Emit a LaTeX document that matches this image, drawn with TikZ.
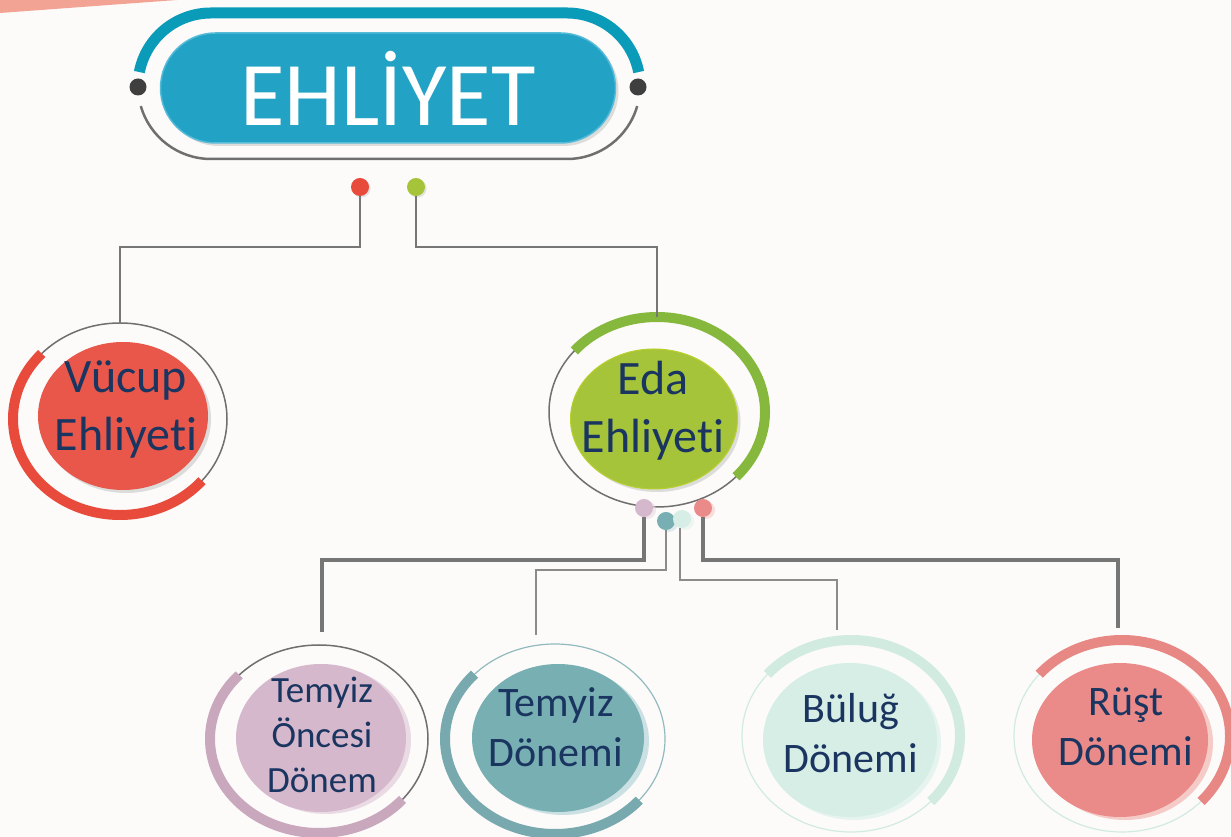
\documentclass[tikz,border=0pt]{standalone}
\usepackage{fontspec}
\setmainfont[Ligatures=NoCommon]{Carlito}
\usetikzlibrary{shapes.geometric}
\usetikzlibrary{shadows}

\definecolor{paper}{HTML}{FCFBF9}
\definecolor{stripe}{HTML}{F2A393}
\definecolor{titleteal}{HTML}{0A9BB9}
\definecolor{titlefill}{HTML}{22A2C4}
\definecolor{titleedge}{HTML}{55BBD8}
\definecolor{darkdot}{HTML}{3F3F3F}
\definecolor{linegray}{HTML}{767676}
\definecolor{ringgray}{HTML}{6F6F6F}
\definecolor{navy}{HTML}{1A3560}
\definecolor{vucfill}{HTML}{E8574A}
\definecolor{vucarc}{HTML}{E84A3C}
\definecolor{edafill}{HTML}{A6C43A}
\definecolor{edaarc}{HTML}{86B83E}
\definecolor{oncfill}{HTML}{D6B8CD}
\definecolor{oncarc}{HTML}{C9A8BE}
\definecolor{onchalo}{HTML}{E9DAE4}
\definecolor{tdonfill}{HTML}{78AFB3}
\definecolor{tdonarc}{HTML}{77A9AE}
\definecolor{tdonhalo}{HTML}{CBE0E2}
\definecolor{bulfill}{HTML}{D7EEE6}
\definecolor{bularc}{HTML}{D1EBE1}
\definecolor{bulhalo}{HTML}{E6F4EF}
\definecolor{rustfill}{HTML}{EA8A89}
\definecolor{rustarc}{HTML}{E88885}
\definecolor{rusthalo}{HTML}{F5CBC8}

\begin{document}
\begin{tikzpicture}[x=1pt, y=1pt,
  ring/.style={ellipse, inner sep=0, outer sep=0, line width=1.5pt},
  arcline/.style={line width=10pt},
  blob/.style={ellipse, inner sep=0, outer sep=0},
  caption/.style={text=navy, align=center, inner sep=0},
  bigtext/.style={caption, font=\fontsize{48}{58}\selectfont},
  midtext/.style={caption, font=\fontsize{42}{50}\selectfont},
  smalltext/.style={caption, font=\fontsize{37}{45}\selectfont},
  dotnode/.style={circle, inner sep=0, outer sep=0, minimum size=18pt},
  conn/.style={draw=linegray, line width=2.5pt},
  thinconn/.style={draw=linegray!85, line width=1.4pt},
  thickconn/.style={draw=linegray, line width=3.4pt}]
\useasboundingbox (0,0) rectangle (1231,837);
\fill[paper] (0,0) rectangle (1231,837);
\fill[stripe] (0,837) -- (0,824) -- (177,837) -- cycle;

% title
\draw[titleteal, line width=11pt] (211,751) ++(169:73pt) arc[start angle=169, end angle=90, radius=73pt] -- (567,824) arc[start angle=90, end angle=11, radius=73pt];
\draw[ringgray, line width=2.5pt] (211,751) ++(196:73pt) arc[start angle=196, end angle=270, radius=73pt] -- (567,678) arc[start angle=270, end angle=344, radius=73pt];
\node[dotnode, fill=darkdot, minimum size=17pt] (knobl) at (138,750) {};
\node[dotnode, fill=darkdot, minimum size=17pt] (knobr) at (638,750) {};
\node[rectangle, rounded corners=55pt, minimum width=455pt, minimum height=110pt, inner sep=0, fill=titlefill, draw=titleedge, line width=1.5pt, text=white,
  font=\fontsize{91}{94}\selectfont,
  drop shadow={shadow xshift=3pt, shadow yshift=-3pt, opacity=0.25}] (title) at (388,749) {EHLİYET};

\node[dotnode, fill=vucarc, drop shadow={shadow xshift=1.5pt, shadow yshift=-1.5pt, opacity=0.2}] (dotV) at (360,650) {};
\node[dotnode, fill=edafill, drop shadow={shadow xshift=1.5pt, shadow yshift=-1.5pt, opacity=0.2}] (dotE) at (416,650) {};

% Vucup
\node[ring, draw=ringgray, minimum width=214pt, minimum height=192pt] (vring) at (120,418) {};
\draw[arcline, vucarc] (vring.center) ++(137:107pt and 96pt) arc[start angle=137, end angle=320, x radius=107pt, y radius=96pt];
\node[blob, fill=vucfill, minimum width=170pt, minimum height=148pt, drop shadow={shadow xshift=3pt, shadow yshift=-3pt, opacity=0.25}] (vucup) at (123,421) {};
\node[bigtext] (vuctext) at (126,428) {Vücup\\Ehliyeti};

% Eda
\node[ring, draw=ringgray, minimum width=216pt, minimum height=190pt] (ering) at (657,425) {};
\draw[arcline, edaarc] (ering.center) ++(140:108pt and 95pt) arc[start angle=140, end angle=-43, x radius=108pt, y radius=95pt];
\node[blob, fill=edafill, draw=edafill!80!yellow, line width=1pt, minimum width=167pt, minimum height=140pt, drop shadow={shadow xshift=3pt, shadow yshift=-3pt, opacity=0.25}] (eda) at (654,418) {};
\node[bigtext] (edatext) at (653,426) {Eda\\Ehliyeti};

\node[dotnode, fill=oncfill, drop shadow={shadow xshift=3pt, shadow yshift=-2pt, fill=onchalo, opacity=0.6}] (dotA) at (644,329) {};
\node[dotnode, fill=tdonfill, drop shadow={shadow xshift=3pt, shadow yshift=-2pt, fill=tdonhalo, opacity=0.6}] (dotB) at (666,316) {};
\node[dotnode, fill=bulfill, drop shadow={shadow xshift=3pt, shadow yshift=-2pt, fill=bulhalo, opacity=0.6}] (dotC) at (682,318) {};
\node[dotnode, fill=rustfill, drop shadow={shadow xshift=3pt, shadow yshift=-2pt, fill=rusthalo, opacity=0.6}] (dotD) at (703,329) {};

% bottom row
\node[ring, draw=ringgray, minimum width=218pt, minimum height=188pt] (r1) at (319,98) {};
\draw[arcline, oncarc] (r1.center) ++(137:109pt and 94pt) arc[start angle=137, end angle=320, x radius=109pt, y radius=94pt];
\node[blob, fill=oncfill, minimum width=170pt, minimum height=148pt, drop shadow={shadow xshift=5pt, shadow yshift=-2pt, fill=onchalo, opacity=1}] (onc) at (321,99) {};
\node[smalltext] (onctext) at (322,102) {Temyiz\\Öncesi\\Dönem};

\node[ring, draw=tdonarc!80, line width=1.2pt, minimum width=220pt, minimum height=190pt] (r2) at (555,98) {};
\draw[arcline, tdonarc] (r2.center) ++(137:110pt and 95pt) arc[start angle=137, end angle=320, x radius=110pt, y radius=95pt];
\node[blob, fill=tdonfill, minimum width=172pt, minimum height=148pt, drop shadow={shadow xshift=5pt, shadow yshift=-3pt, fill=tdonhalo, opacity=1}] (tdon) at (558,99) {};
\node[midtext] (tdontext) at (556,110) {Temyiz\\Dönemi};

\node[ring, draw=bularc, line width=1.2pt, minimum width=218pt, minimum height=192pt] (r3) at (851,101) {};
\draw[arcline, bularc] (r3.center) ++(140:109pt and 96pt) arc[start angle=140, end angle=-43, x radius=109pt, y radius=96pt];
\node[blob, fill=bulfill, minimum width=174pt, minimum height=154pt, drop shadow={shadow xshift=4pt, shadow yshift=-3pt, fill=bulhalo, opacity=1}] (bulug) at (850,97) {};
\node[midtext] (bultext) at (851,104) {Büluğ\\Dönemi};

\node[ring, draw=bularc, line width=1.2pt, minimum width=216pt, minimum height=192pt] (r4) at (1122,101) {};
\draw[arcline, rustarc] (r4.center) ++(140:108pt and 96pt) arc[start angle=140, end angle=-43, x radius=108pt, y radius=96pt];
\node[blob, fill=rustfill, minimum width=176pt, minimum height=154pt, drop shadow={shadow xshift=5pt, shadow yshift=-3pt, fill=rusthalo, opacity=1}] (rust) at (1120,97) {};
\node[midtext] (rusttext) at (1126,110) {Rüşt\\Dönemi};

% connectors
\draw[conn] (dotV) -- ++(0,-60) -| (vring.north);
\draw[conn] (dotE) -- ++(0,-60) -| (ering.north);
\draw[thickconn] (dotA) -- ++(0,-52) -| ([shift={(3pt,13pt)}]r1.north);
\draw[thinconn] (dotB) -- ++(0,-49) -| ([shift={(-19pt,9pt)}]r2.north);
\draw[thinconn] ([xshift=-2pt]dotC.south) -- ++(0,-52) -| ([shift={(-14pt,10pt)}]r3.north);
\draw[thickconn] (dotD) -- ++(0,-52) -| ([shift={(-4pt,12pt)}]r4.north);
\end{tikzpicture}
\end{document}
